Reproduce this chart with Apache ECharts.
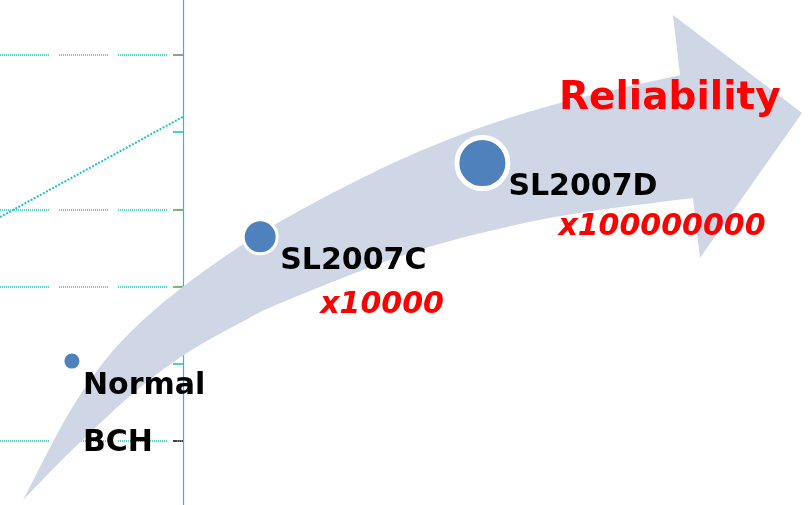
<!DOCTYPE html>
<html>
<head>
<meta charset="utf-8">
<script src="https://cdn.jsdelivr.net/npm/echarts@6/dist/echarts.min.js"></script>
<style>
html,body{margin:0;padding:0;background:#fff;}
#chart{width:808px;height:505px;}
</style>
</head>
<body>
<div id="chart"></div>
<script>
// ---- data ----
const products   = ['Normal BCH', 'SL2007C', 'SL2007D'];
const nameLines  = [['Normal', 'BCH'], ['SL2007C'], ['SL2007D']];
const multiplier = ['', 'x10000', 'x100000000'];
const posX       = [8.9, 32.2, 59.7];
const posY       = [28.5, 53.1, 67.7];
const bubbleSize = [15, 34, 51];

// background scale fragment on the left
const scaleMin   = 0.171;
const scaleMax   = 6.712;
const trendX     = [0, 1];
const trendY     = [3.90, 5.20];
const gridLevels = [6, 4, 3, 1];

// ---- styles ----
const FONT = 'DejaVu Sans';
const BLUE = '#4f81bd';
const ringWidth   = [0, 3, 5];
const labelStyle  = [
  { offset: [11, -3.5], lineHeight: 57, indent: 0 },
  { offset: [20, 2],    lineHeight: 44, indent: 40 },
  { offset: [26, 4],    lineHeight: 40, indent: 50 }
];
const tickGroups = [
  { values: [5, 2], color: '#26c2c6', line: true },
  { values: [4, 3], color: '#5fae5f', line: false },
  { values: [6],    color: '#7f7f7f', line: false },
  { values: [1],    color: '#111111', line: false }
];

// curved arrow outline
const outerEdge = [[23,500],[80,395],[143,320],[245,243],[360,179],[460,135],[560,103],[680,75]];
const arrowHead = [[673,15],[802,113],[700,258]];
const innerEdge = [[693,198],[600,210],[520,224],[410,253],[283,302],[240,323],[200,345],[165,368],[130,396],[95,428],[60,462],[23,500]];

function smoothPoints(pts, steps) {
  const out = [];
  const n = pts.length;
  for (let i = 0; i < n - 1; i++) {
    const p0 = pts[Math.max(i - 1, 0)], p1 = pts[i], p2 = pts[i + 1], p3 = pts[Math.min(i + 2, n - 1)];
    const c1 = [p1[0] + (p2[0] - p0[0]) / 6, p1[1] + (p2[1] - p0[1]) / 6];
    const c2 = [p2[0] - (p3[0] - p1[0]) / 6, p2[1] - (p3[1] - p1[1]) / 6];
    for (let s = 0; s < steps; s++) {
      const t = s / steps, u = 1 - t;
      out.push([
        u*u*u*p1[0] + 3*u*u*t*c1[0] + 3*u*t*t*c2[0] + t*t*t*p2[0],
        u*u*u*p1[1] + 3*u*u*t*c1[1] + 3*u*t*t*c2[1] + t*t*t*p2[1]
      ]);
    }
  }
  out.push(pts[n - 1]);
  return out;
}
const arrowPoints = smoothPoints(outerEdge, 16).concat(arrowHead, smoothPoints(innerEdge, 16));

// dotted runs separated by short gaps
const dotDash = [];
for (let i = 0; i < 24; i++) dotDash.push(1, 1);
dotDash.push(1, 10);

const chart = echarts.init(document.getElementById('chart'), null, { renderer: 'canvas' });

// one grid per tick colour, all sharing the same frame on the left
const leftGrids = tickGroups.map(() => ({ left: 0, width: 183, top: 0, bottom: 0, containLabel: false }));
const leftX = tickGroups.map((g, i) => ({ type: 'value', gridIndex: i, min: 0, max: 1, show: false }));
const leftY = tickGroups.map((g, i) => ({
  type: 'value', gridIndex: i, min: scaleMin, max: scaleMax, position: 'right', zlevel: 0,
  axisLine: { show: g.line, onZero: false, lineStyle: { color: '#26c2c6', width: 1.2 } },
  axisTick: { show: true, inside: true, length: 10, customValues: g.values, lineStyle: { color: g.color, width: 1.6 } },
  axisLabel: { show: false },
  splitLine: { show: false }
}));
const mainIdx = tickGroups.length;

chart.setOption({
  animation: false,
  backgroundColor: '#ffffff',
  title: {
    text: 'Reliability', left: 559, top: 79, padding: 0, zlevel: 2, z: 12,
    textStyle: { color: '#ff0000', fontSize: 39, fontWeight: 'bold', fontFamily: FONT }
  },
  grid: leftGrids.concat([{ left: 0, right: 0, top: 0, bottom: 0, containLabel: false }]),
  xAxis: leftX.concat([{ type: 'value', gridIndex: mainIdx, min: 0, max: 100, show: false }]),
  yAxis: leftY.concat([{ type: 'value', gridIndex: mainIdx, min: 0, max: 100, show: false }]),
  graphic: [{
    type: 'polygon', silent: true, zlevel: 1, z: 5,
    shape: { points: arrowPoints },
    style: { fill: '#cfd7e7' }
  }],
  series: [
    {
      type: 'line', xAxisIndex: 0, yAxisIndex: 0, zlevel: 0, z: 2,
      symbol: 'none', silent: true,
      lineStyle: { color: '#22c2c8', width: 2, type: [2, 1.5] },
      data: trendX.map((x, i) => [x, trendY[i]]),
      markLine: {
        silent: true, symbol: 'none', label: { show: false },
        lineStyle: { color: '#1fc6b4', width: 1.5, type: dotDash },
        data: gridLevels.map(v => ({ yAxis: v }))
      }
    },
    {
      type: 'scatter', xAxisIndex: mainIdx, yAxisIndex: mainIdx, zlevel: 2, z: 10,
      itemStyle: { color: BLUE, borderColor: '#ffffff', opacity: 1 },
      data: products.map((name, i) => {
        const ls = labelStyle[i];
        const head = nameLines[i].map(t => '{n|' + t + '}').join('\n');
        const text = multiplier[i] ? head + '\n{r|' + multiplier[i] + '}' : head;
        return {
          name: name,
          value: [posX[i], posY[i], bubbleSize[i]],
          symbolSize: bubbleSize[i],
          itemStyle: { borderWidth: ringWidth[i] },
          label: {
            show: true, position: 'inside', align: 'left', verticalAlign: 'top',
            offset: ls.offset,
            formatter: text,
            rich: {
              n: { fontFamily: FONT, fontWeight: 'bold', fontSize: 30, color: '#000000', lineHeight: ls.lineHeight },
              r: { fontFamily: FONT, fontWeight: 'bold', fontStyle: 'italic', fontSize: 30, color: '#ff0000',
                   lineHeight: ls.lineHeight, padding: [0, 0, 0, ls.indent] }
            }
          }
        };
      })
    }
  ]
});
</script>
</body>
</html>
